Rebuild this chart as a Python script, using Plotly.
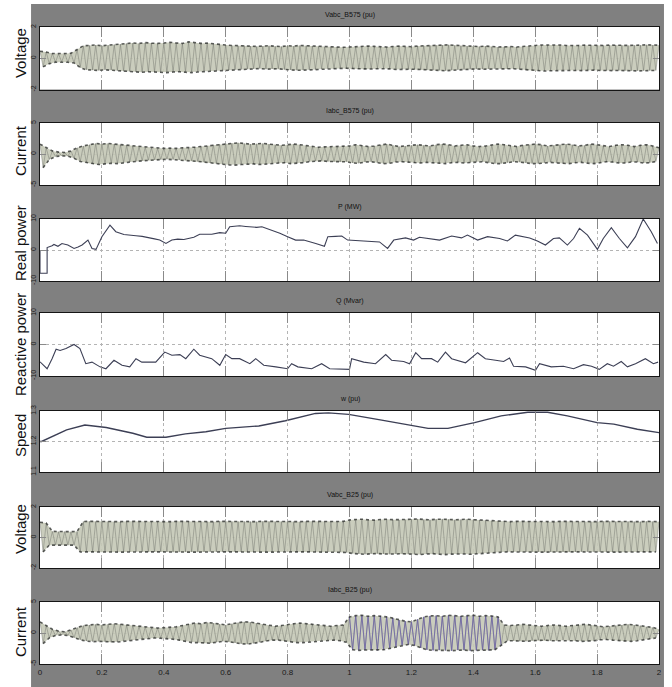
import numpy as np
import plotly.graph_objects as go

# ---------------- data ----------------
X_TICKS = [0, 0.2, 0.4, 0.6, 0.8, 1.0, 1.2, 1.4, 1.6, 1.8, 2.0]
X_TICK_TEXT = ["0", "0.2", "0.4", "0.6", "0.8", "1", "1.2", "1.4", "1.6", "1.8", "2"]

PANEL_TITLES = ["Vabc_B575 (pu)", "Iabc_B575 (pu)", "P (MW)", "Q (Mvar)",
                "w (pu)", "Vabc_B25 (pu)", "Iabc_B25 (pu)"]
Y_LABELS = ["Voltage", "Current", "Real power", "Reactive power", "Speed", "Voltage", "Current"]
Y_RANGES = [[-2, 2], [-5, 5], [-10, 10], [-10, 10], [1.1, 1.3], [-2, 2], [-5, 5]]
Y_TICKS = [[-2, 0, 2], [-5, 0, 5], [-10, 0, 10], [-10, 0, 10], [1.1, 1.2, 1.3], [-2, 0, 2], [-5, 0, 5]]
Y_TICK_TEXT = [["-2", "0", "2"], ["-5", "0", "5"], ["-10", "0", "10"], ["-10", "0", "10"],
               ["1.1", "1.2", "1.3"], ["-2", "0", "2"], ["-5", "0", "5"]]

# sample times of positive peaks (every 0.02 s) and negative peaks (in between)
T_UP = [round(0.02 * i, 2) for i in range(101)]
T_LO = [round(0.02 * i + 0.01, 2) for i in range(100)]

# Vabc_B575 peak envelope
VB575_UP = [0.45,0.40,0.30,0.28,0.30,0.32,0.55,0.80,0.82,0.85,
            0.80,0.84,0.88,0.90,0.95,0.98,0.95,1.00,0.97,0.95,
            0.98,1.02,0.98,0.95,1.05,0.98,0.95,0.97,0.92,0.90,
            0.85,0.82,0.80,0.82,0.78,0.76,0.78,0.80,0.77,0.75,
            0.80,0.78,0.82,0.80,0.78,0.75,0.72,0.74,0.72,0.70,
            0.72,0.75,0.74,0.78,0.76,0.74,0.72,0.75,0.78,0.76,
            0.74,0.78,0.80,0.82,0.84,0.85,0.86,0.83,0.80,0.78,
            0.76,0.75,0.78,0.74,0.72,0.73,0.75,0.72,0.74,0.78,
            0.82,0.85,0.86,0.84,0.85,0.82,0.80,0.82,0.84,0.82,
            0.80,0.82,0.84,0.85,0.83,0.82,0.85,0.84,0.86,0.85,
            0.84]
VB575_LO = [-0.55,-0.35,-0.25,-0.24,-0.26,-0.30,-0.60,-0.74,-0.76,-0.78,
            -0.74,-0.76,-0.80,-0.84,-0.86,-0.88,-0.90,-0.86,-0.88,-0.90,
            -0.92,-0.88,-0.86,-0.90,-0.92,-0.88,-0.86,-0.84,-0.82,-0.80,
            -0.76,-0.74,-0.72,-0.70,-0.68,-0.66,-0.70,-0.68,-0.67,-0.72,
            -0.75,-0.77,-0.76,-0.74,-0.72,-0.68,-0.66,-0.67,-0.65,-0.64,
            -0.66,-0.68,-0.70,-0.69,-0.67,-0.66,-0.68,-0.72,-0.70,-0.68,
            -0.70,-0.72,-0.74,-0.76,-0.78,-0.80,-0.77,-0.74,-0.72,-0.70,
            -0.68,-0.70,-0.69,-0.67,-0.66,-0.68,-0.67,-0.70,-0.74,-0.78,
            -0.80,-0.82,-0.80,-0.79,-0.77,-0.76,-0.78,-0.79,-0.77,-0.76,
            -0.78,-0.80,-0.79,-0.78,-0.80,-0.82,-0.81,-0.80,-0.79,-0.78]

# Iabc_B575 peak envelope
IB575_UP = [1.60,1.00,0.50,0.30,0.25,0.50,1.00,1.30,1.50,1.70,
            1.60,1.70,1.60,1.50,1.40,1.30,1.20,1.10,1.00,0.90,
            0.90,0.95,0.90,1.00,1.00,1.10,1.20,1.30,1.50,1.60,
            1.70,1.75,1.80,1.70,1.60,1.65,1.70,1.60,1.50,1.40,
            1.50,1.60,1.50,1.35,1.20,1.10,1.15,1.20,1.25,1.30,
            1.30,1.50,1.40,1.20,1.30,1.50,1.60,1.40,1.20,1.30,
            1.40,1.50,1.40,1.30,1.50,1.60,1.50,1.30,1.40,1.50,
            1.30,1.20,1.30,1.50,1.60,1.50,1.30,1.20,1.40,1.50,
            1.60,1.50,1.30,1.40,1.50,1.60,1.50,1.30,1.40,1.60,
            1.50,1.30,1.20,1.40,1.50,1.40,1.20,1.40,1.50,1.30,
            1.00]
IB575_LO = [-2.20,-0.90,-0.40,-0.30,-0.35,-0.70,-1.20,-1.40,-1.60,-1.70,
            -1.60,-1.50,-1.55,-1.40,-1.30,-1.20,-1.10,-1.00,-0.95,-0.90,
            -0.85,-0.90,-0.95,-1.00,-1.10,-1.20,-1.30,-1.45,-1.55,-1.65,
            -1.75,-1.80,-1.70,-1.65,-1.60,-1.70,-1.65,-1.55,-1.45,-1.40,
            -1.55,-1.50,-1.40,-1.25,-1.15,-1.10,-1.20,-1.25,-1.30,-1.25,
            -1.45,-1.50,-1.30,-1.25,-1.40,-1.55,-1.50,-1.30,-1.25,-1.35,
            -1.45,-1.45,-1.35,-1.40,-1.55,-1.55,-1.40,-1.35,-1.45,-1.40,
            -1.25,-1.25,-1.40,-1.55,-1.55,-1.40,-1.25,-1.30,-1.45,-1.55,
            -1.55,-1.40,-1.35,-1.45,-1.55,-1.55,-1.40,-1.35,-1.50,-1.55,
            -1.40,-1.25,-1.30,-1.45,-1.45,-1.30,-1.30,-1.45,-1.40,-1.20]

# Vabc_B25 peak envelope
VB25_UP = [1.00,0.95,0.40,0.38,0.40,0.38,0.40,1.05,1.06,1.05,
           1.04,1.06,1.05,1.04,1.06,1.05,1.06,1.04,1.05,1.06,
           1.05,1.04,1.06,1.05,1.04,1.05,1.06,1.05,1.04,1.06,
           1.05,1.04,1.05,1.06,1.05,1.04,1.06,1.05,1.04,1.05,
           1.06,1.05,1.04,1.06,1.05,1.04,1.05,1.06,1.05,1.06,
           1.15,1.18,1.20,1.16,1.14,1.18,1.20,1.17,1.15,1.18,
           1.20,1.22,1.18,1.16,1.20,1.22,1.19,1.16,1.18,1.20,
           1.17,1.15,1.14,1.10,1.06,1.05,1.04,1.06,1.05,1.04,
           1.05,1.06,1.05,1.04,1.06,1.05,1.04,1.05,1.06,1.05,
           1.04,1.06,1.05,1.04,1.05,1.06,1.05,1.04,1.06,1.05,
           1.04]
VB25_LO = [-0.95,-0.50,-0.50,-0.48,-0.50,-0.50,-0.95,-0.94,-0.95,-0.96,
           -0.95,-0.94,-0.95,-0.96,-0.95,-0.94,-0.95,-0.96,-0.95,-0.94,
           -0.95,-0.96,-0.95,-0.94,-0.95,-0.96,-0.95,-0.94,-0.95,-0.96,
           -0.95,-0.94,-0.95,-0.96,-0.95,-0.94,-0.95,-0.96,-0.95,-0.94,
           -0.95,-0.96,-0.95,-0.94,-0.95,-0.96,-0.95,-0.94,-0.96,-0.98,
           -1.05,-1.08,-1.10,-1.07,-1.05,-1.08,-1.10,-1.08,-1.06,-1.08,
           -1.10,-1.12,-1.08,-1.06,-1.10,-1.12,-1.09,-1.06,-1.08,-1.10,
           -1.07,-1.05,-1.02,-0.98,-0.95,-0.94,-0.95,-0.96,-0.95,-0.94,
           -0.95,-0.96,-0.95,-0.94,-0.95,-0.96,-0.95,-0.94,-0.95,-0.96,
           -0.95,-0.94,-0.95,-0.96,-0.95,-0.94,-0.95,-0.96,-0.95,-0.94]

# Iabc_B25 peak envelope
IB25_UP = [1.80,1.20,0.60,0.30,0.20,0.50,0.90,1.20,1.30,1.40,
           1.30,1.45,1.50,1.40,1.30,1.20,1.10,1.00,0.85,0.80,
           0.85,0.90,1.00,1.20,1.40,1.60,1.50,1.70,1.60,1.40,
           1.30,1.50,1.70,1.80,1.75,1.60,1.40,1.20,1.10,1.20,
           1.40,1.50,1.60,1.50,1.40,1.30,1.20,1.10,1.20,1.30,
           2.60,2.80,2.85,2.70,2.80,2.75,2.60,2.40,2.10,1.90,
           1.80,2.20,2.60,2.75,2.80,2.70,2.85,2.80,2.70,2.80,
           2.85,2.70,2.80,2.75,2.60,1.30,1.20,1.30,1.40,1.30,
           1.20,1.10,1.20,1.30,1.20,1.10,1.20,1.30,1.40,1.30,
           1.20,1.00,1.10,1.20,1.30,1.40,1.30,1.20,1.00,0.90,
           0.60]
IB25_LO = [-1.70,-0.80,-0.40,-0.30,-0.40,-0.80,-1.10,-1.30,-1.40,-1.35,
           -1.40,-1.50,-1.45,-1.35,-1.25,-1.10,-1.00,-0.90,-0.80,-0.85,
           -0.90,-1.00,-1.15,-1.35,-1.55,-1.55,-1.65,-1.65,-1.50,-1.35,
           -1.40,-1.60,-1.75,-1.80,-1.70,-1.50,-1.30,-1.15,-1.15,-1.30,
           -1.45,-1.55,-1.55,-1.45,-1.35,-1.25,-1.15,-1.15,-1.25,-1.50,
           -2.70,-2.80,-2.75,-2.75,-2.80,-2.70,-2.50,-2.25,-2.00,-1.85,
           -2.00,-2.40,-2.70,-2.80,-2.75,-2.80,-2.85,-2.75,-2.75,-2.85,
           -2.80,-2.75,-2.80,-2.70,-2.00,-1.25,-1.25,-1.35,-1.35,-1.25,
           -1.15,-1.15,-1.25,-1.25,-1.15,-1.15,-1.25,-1.35,-1.35,-1.25,
           -1.10,-1.05,-1.15,-1.25,-1.35,-1.35,-1.25,-1.10,-0.95,-0.80]

# P (MW)
P_T = [0.0, 0.0, 0.023, 0.023, 0.039, 0.045, 0.058, 0.071, 0.090, 0.110, 0.123, 0.136, 0.155,
       0.168, 0.181, 0.200, 0.226, 0.245, 0.271, 0.290, 0.310, 0.330, 0.349, 0.370, 0.387, 0.407,
       0.426, 0.445, 0.465, 0.497, 0.516, 0.535, 0.555, 0.581, 0.600, 0.613, 0.645, 0.665, 0.684,
       0.700, 0.717, 0.749, 0.775, 0.800, 0.826, 0.852, 0.870, 0.891, 0.919, 0.930, 0.955, 0.975,
       0.994, 1.033, 1.072, 1.097, 1.123, 1.143, 1.181, 1.207, 1.226, 1.265, 1.291, 1.330, 1.362,
       1.381, 1.414, 1.446, 1.485, 1.510, 1.536, 1.582, 1.607, 1.633, 1.659, 1.678, 1.704, 1.724,
       1.743, 1.769, 1.801, 1.820, 1.846, 1.872, 1.898, 1.924, 1.949, 1.975, 1.995]
P_V = [0.0, -7.5, -7.5, 0.8, 1.4, 1.8, 1.2, 2.1, 1.6, 0.5, 1.0, 1.6, 3.2,
       0.5, 0.2, 4.3, 8.0, 5.9, 5.0, 4.9, 4.6, 4.4, 4.1, 3.6, 3.2, 2.1,
       3.2, 3.5, 3.4, 4.1, 5.1, 5.2, 5.1, 5.6, 5.4, 7.5, 7.8, 7.6, 7.4,
       7.3, 7.5, 6.4, 5.4, 4.3, 3.2, 3.2, 2.8, 2.1, 1.2, 4.3, 4.4, 4.5,
       3.2, 2.9, 2.6, 2.6, 0.5, 3.2, 3.9, 3.2, 4.1, 3.7, 3.2, 4.5, 3.9,
       4.8, 3.2, 4.3, 3.7, 2.9, 4.8, 3.9, 2.9, 1.6, 3.7, 3.9, 1.6, 3.7,
       7.0, 4.8, 0.2, 3.7, 7.2, 3.7, 0.7, 4.3, 10.0, 5.9, 2.1]

# Q (Mvar)
Q_T = [0.0, 0.006, 0.023, 0.039, 0.052, 0.065, 0.084, 0.110, 0.129, 0.148, 0.168, 0.194, 0.213,
       0.239, 0.265, 0.290, 0.310, 0.329, 0.374, 0.403, 0.426, 0.452, 0.471, 0.497, 0.516, 0.555,
       0.581, 0.600, 0.620, 0.645, 0.678, 0.697, 0.723, 0.762, 0.800, 0.813, 0.833, 0.878, 0.910,
       0.936, 0.968, 1.000, 1.007, 1.046, 1.084, 1.117, 1.136, 1.175, 1.194, 1.214, 1.233, 1.265,
       1.285, 1.310, 1.330, 1.375, 1.414, 1.439, 1.472, 1.498, 1.517, 1.530, 1.569, 1.601, 1.614,
       1.652, 1.691, 1.724, 1.756, 1.782, 1.807, 1.833, 1.853, 1.878, 1.898, 1.924, 1.956, 1.982,
       1.997]
Q_V = [-5.5, -6.1, -7.7, -4.5, -1.5, -1.9, -1.3, 0.0, -1.3, -6.1, -5.6, -7.1, -7.7,
       -5.0, -6.6, -7.1, -4.5, -5.6, -5.6, -2.4, -3.4, -3.2, -4.5, -1.5, -3.4, -4.5,
       -6.6, -3.2, -4.5, -4.5, -6.1, -4.5, -6.6, -7.1, -7.7, -6.1, -7.1, -7.7, -6.1,
       -7.7, -7.7, -7.9, -4.5, -5.6, -6.1, -3.2, -5.0, -5.4, -6.1, -2.6, -4.5, -4.5,
       -5.6, -2.4, -4.5, -5.8, -2.6, -4.5, -5.0, -5.4, -4.3, -6.9, -7.1, -8.2, -6.1,
       -7.1, -6.9, -7.7, -6.4, -6.9, -7.9, -6.1, -6.9, -5.4, -7.1, -6.1, -4.5, -6.1,
       -5.6]

# w (pu)
W_T = [0.0, 0.005, 0.086, 0.145, 0.214, 0.300, 0.345, 0.407, 0.470, 0.536, 0.600, 0.707, 0.793,
       0.890, 0.932, 0.954, 0.997, 1.104, 1.200, 1.254, 1.318, 1.404, 1.490, 1.576, 1.640, 1.704,
       1.800, 1.854, 1.930, 2.0]
W_V = [1.200, 1.200, 1.238, 1.254, 1.246, 1.227, 1.214, 1.214, 1.225, 1.232, 1.243, 1.251, 1.268,
       1.292, 1.294, 1.293, 1.289, 1.270, 1.254, 1.243, 1.243, 1.262, 1.284, 1.296, 1.296, 1.284,
       1.262, 1.257, 1.240, 1.229]

# ---------------- layout geometry (pixels) ----------------
W, H = 672, 687
ML, MR, MT, MB = 40, 10, 27, 23
PW, PH = W - ML - MR, H - MT - MB
PANEL_PX = [(27, 89.5), (123, 185), (219, 281), (313, 376), (411, 472), (507, 568), (602, 664)]
LABEL_Y_PX = [53, 151, 243, 345, 436, 529, 632]

def py(p):
    return (H - MB - p) / PH

def px(p):
    return (p - ML) / PW

fig = go.Figure()

def zigzag(up, lo):
    xs, ys = [], []
    for i in range(len(lo)):
        xs += [T_UP[i], T_LO[i]]
        ys += [up[i], lo[i]]
    xs.append(T_UP[-1]); ys.append(up[-1])
    return xs, ys

def add_wave(k, up, lo, hi_window=None):
    xa = "x" if k == 1 else f"x{k}"
    ya = "y" if k == 1 else f"y{k}"
    bx = T_UP + T_LO[::-1]
    by = up + lo[::-1]
    fig.add_trace(go.Scatter(x=bx, y=by, fill="toself", fillcolor="rgba(196,200,182,0.9)",
                             line=dict(width=0), mode="lines", xaxis=xa, yaxis=ya,
                             showlegend=False, hoverinfo="skip"))
    zx, zy = zigzag(up, lo)
    fig.add_trace(go.Scatter(x=zx, y=zy, mode="lines", line=dict(color="rgba(95,98,92,0.55)", width=0.7),
                             xaxis=xa, yaxis=ya, showlegend=False, hoverinfo="skip"))
    if hi_window:
        sx = [a for a in zx if hi_window[0] <= a <= hi_window[1]]
        sy = [b for a, b in zip(zx, zy) if hi_window[0] <= a <= hi_window[1]]
        fig.add_trace(go.Scatter(x=sx, y=sy, mode="lines", line=dict(color="rgba(110,100,170,0.9)", width=0.9),
                                 xaxis=xa, yaxis=ya, showlegend=False, hoverinfo="skip"))
    # dark dotted rims at the peaks
    fig.add_trace(go.Scatter(x=T_UP, y=up, mode="lines", line=dict(color="rgba(50,52,50,0.8)", width=1.6, dash="dot"),
                             xaxis=xa, yaxis=ya, showlegend=False, hoverinfo="skip"))
    fig.add_trace(go.Scatter(x=T_LO, y=lo, mode="lines", line=dict(color="rgba(50,52,50,0.8)", width=1.6, dash="dot"),
                             xaxis=xa, yaxis=ya, showlegend=False, hoverinfo="skip"))

add_wave(1, VB575_UP, VB575_LO)
add_wave(2, IB575_UP, IB575_LO)
LINE_COL = "#3c3f55"
fig.add_trace(go.Scatter(x=P_T, y=P_V, mode="lines", line=dict(color=LINE_COL, width=1.1),
                         xaxis="x3", yaxis="y3", showlegend=False))
fig.add_trace(go.Scatter(x=Q_T, y=Q_V, mode="lines", line=dict(color=LINE_COL, width=1.1),
                         xaxis="x4", yaxis="y4", showlegend=False))
fig.add_trace(go.Scatter(x=W_T, y=W_V, mode="lines", line=dict(color=LINE_COL, width=1.4),
                         xaxis="x5", yaxis="y5", showlegend=False))
add_wave(6, VB25_UP, VB25_LO)
add_wave(7, IB25_UP, IB25_LO, hi_window=(1.0, 1.49))

layout = dict(width=W, height=H, margin=dict(l=ML, r=MR, t=MT, b=MB),
              paper_bgcolor="#808080", plot_bgcolor="white", showlegend=False)

annotations = []
for k in range(1, 8):
    top, bot = PANEL_PX[k - 1]
    sfx = "" if k == 1 else str(k)
    layout["xaxis" + sfx] = dict(
        domain=[0, 1], anchor="y" + sfx, range=[0, 2], tickvals=X_TICKS, ticktext=X_TICK_TEXT,
        ticks="inside", ticklen=10, tickcolor="#8a8a8a", tickwidth=1,
        showgrid=True, gridcolor="#b4b4b4", griddash="dot", gridwidth=1,
        showline=True, linecolor="#151515", linewidth=1, mirror="ticks", zeroline=False,
        showticklabels=(k == 7), tickfont=dict(size=8, color="#1a1a1a", family="Liberation Sans"))
    layout["yaxis" + sfx] = dict(
        domain=[py(bot), py(top)], anchor="x" + sfx, range=Y_RANGES[k - 1],
        tickvals=Y_TICKS[k - 1], ticktext=Y_TICK_TEXT[k - 1], tickangle=-90,
        ticks="inside", ticklen=6, tickcolor="#8a8a8a",
        showgrid=True, gridcolor="#b4b4b4", griddash="dot",
        showline=True, linecolor="#151515", linewidth=1, mirror="ticks", zeroline=False,
        tickfont=dict(size=7, color="#1a1a1a", family="Liberation Sans"))
    annotations.append(dict(text=PANEL_TITLES[k - 1], xref="paper", yref="paper",
                            x=0.5, y=py(top - 12), showarrow=False, xanchor="center", yanchor="middle",
                            font=dict(size=7, color="#111", family="Liberation Sans")))
    annotations.append(dict(text=Y_LABELS[k - 1], xref="paper", yref="paper",
                            x=px(20), y=py(LABEL_Y_PX[k - 1]), textangle=-90, showarrow=False,
                            xanchor="center", yanchor="middle",
                            font=dict(size=15, color="#111", family="Liberation Sans")))

layout["annotations"] = annotations
layout["shapes"] = [
    dict(type="rect", xref="paper", yref="paper", x0=px(-5), x1=px(31), y0=py(H + 5), y1=py(-5),
         fillcolor="white", line=dict(width=0), layer="below"),
    dict(type="rect", xref="paper", yref="paper", x0=px(-5), x1=px(W + 5), y0=py(4), y1=py(-5),
         fillcolor="white", line=dict(width=0), layer="below"),
    dict(type="rect", xref="paper", yref="paper", x0=px(667), x1=px(W + 5), y0=py(H + 5), y1=py(-5),
         fillcolor="white", line=dict(width=0), layer="below"),
]
fig.update_layout(**layout)
fig.write_html("out.html")
